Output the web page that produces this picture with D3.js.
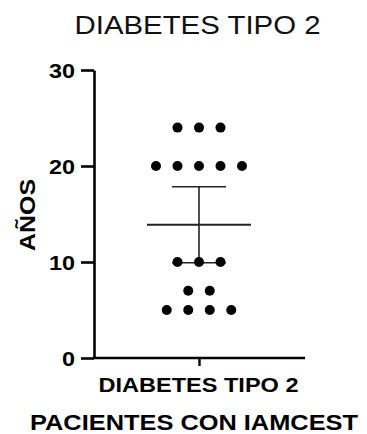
<!DOCTYPE html>
<html>
<head>
<meta charset="utf-8">
<script src="https://cdn.jsdelivr.net/npm/d3@7"></script>
<style>
  html, body { margin: 0; padding: 0; background: #fff; }
  svg { display: block; font-family: Arial, "Liberation Sans", sans-serif; }
</style>
</head>
<body>
<svg id="chart" width="367" height="434"></svg>
<script>
// Years with type 2 diabetes, one value per patient
const category = "DIABETES TIPO 2";
const values = [24, 24, 24, 20, 20, 20, 20, 20, 10, 10, 10, 7, 7, 5, 5, 5, 5];
const yTicks = [0, 10, 20, 30];
const title = "DIABETES TIPO 2";
const yLabel = "AÑOS";
const xTitle = "PACIENTES CON IAMCEST";

(function draw() {
  const svg = d3.select("#chart");
  const mLeft = 94, mRight = 305, mTop = 70, mBottom = 358;
  const FONT = "Arial, 'Liberation Sans', sans-serif";

  const y = d3.scaleLinear().domain([0, 30]).range([mBottom, mTop]);
  const x = d3.scaleBand().domain([category]).range([mLeft, mRight]).padding(0);
  const cx = x(category) + x.bandwidth() / 2 - 0.5;

  // Mean with 95% confidence interval
  const n = values.length;
  const mean = d3.mean(values);
  const sd = d3.deviation(values);
  const tCrit = 2.12; // t(0.975, df = 16)
  const half = tCrit * sd / Math.sqrt(n);

  // Title (wide sans lettering)
  svg.append("text")
    .attr("x", 197.5).attr("y", 34)
    .attr("text-anchor", "middle")
    .attr("font-size", 25).attr("font-family", FONT)
    .attr("fill", "#111")
    .attr("textLength", 246).attr("lengthAdjust", "spacingAndGlyphs")
    .text(title);

  // Y axis
  const yAxis = svg.append("g")
    .attr("transform", `translate(${mLeft},0)`)
    .call(d3.axisLeft(y).tickValues(yTicks).tickSize(13).tickPadding(6).tickSizeOuter(0));
  yAxis.select(".domain").attr("stroke", "#000").attr("stroke-width", 2.6);
  yAxis.selectAll(".tick line").attr("stroke", "#000").attr("stroke-width", 2.6);
  yAxis.selectAll(".tick text")
    .attr("font-size", 20).attr("font-weight", "bold").attr("fill", "#000")
    .attr("font-family", FONT)
    .attr("dy", "0.36em")
    .attr("textLength", d => String(d).length * 13)
    .attr("lengthAdjust", "spacingAndGlyphs");

  // X axis
  const xAxis = svg.append("g")
    .attr("transform", `translate(0,${mBottom})`)
    .call(d3.axisBottom(x).tickSize(8).tickPadding(8).tickSizeOuter(0));
  xAxis.select(".domain").attr("stroke", "#000").attr("stroke-width", 2.6)
    .attr("d", `M${mLeft - 1.3},0H${mRight}`);
  xAxis.selectAll(".tick line").attr("stroke", "#000").attr("stroke-width", 2.4);
  xAxis.selectAll(".tick text")
    .attr("font-size", 20).attr("font-weight", "bold").attr("fill", "#000")
    .attr("font-family", FONT)
    .attr("dy", null)
    .attr("y", 34)
    .attr("x", -1)
    .attr("textLength", 200).attr("lengthAdjust", "spacingAndGlyphs");

  // Axis titles
  svg.append("text")
    .attr("transform", `translate(35,215) rotate(-90)`)
    .attr("text-anchor", "middle")
    .attr("font-size", 22).attr("font-weight", "bold").attr("fill", "#000")
    .attr("font-family", FONT)
    .attr("textLength", 72).attr("lengthAdjust", "spacingAndGlyphs")
    .text(yLabel);

  svg.append("text")
    .attr("x", 194).attr("y", 430)
    .attr("text-anchor", "middle")
    .attr("font-size", 22).attr("font-weight", "bold").attr("fill", "#000")
    .attr("font-family", FONT)
    .attr("textLength", 328).attr("lengthAdjust", "spacingAndGlyphs")
    .text(xTitle);

  // Scatter: points sharing a value are spread horizontally around the centre
  const spacing = 21.5;
  const groups = d3.groups(values, d => d);
  const pts = [];
  groups.forEach(([v, arr]) => {
    arr.forEach((d, i) => pts.push({ v: d, dx: (i - (arr.length - 1) / 2) * spacing }));
  });

  // Error bar (drawn under the dots)
  const g = svg.append("g").attr("stroke", "#222");
  g.append("line")
    .attr("x1", cx).attr("x2", cx)
    .attr("y1", y(mean + half)).attr("y2", y(mean - half))
    .attr("stroke-width", 1.6);
  [mean + half, mean - half].forEach(v => {
    g.append("line")
      .attr("x1", cx - 27).attr("x2", cx + 27)
      .attr("y1", y(v)).attr("y2", y(v))
      .attr("stroke-width", 1.6);
  });
  g.append("line")
    .attr("x1", cx - 52).attr("x2", cx + 52)
    .attr("y1", y(mean)).attr("y2", y(mean))
    .attr("stroke-width", 2);

  svg.append("g").selectAll("circle")
    .data(pts)
    .join("circle")
    .attr("cx", d => cx + d.dx)
    .attr("cy", d => y(d.v))
    .attr("r", 5)
    .attr("fill", "#000");
})();
</script>
</body>
</html>
